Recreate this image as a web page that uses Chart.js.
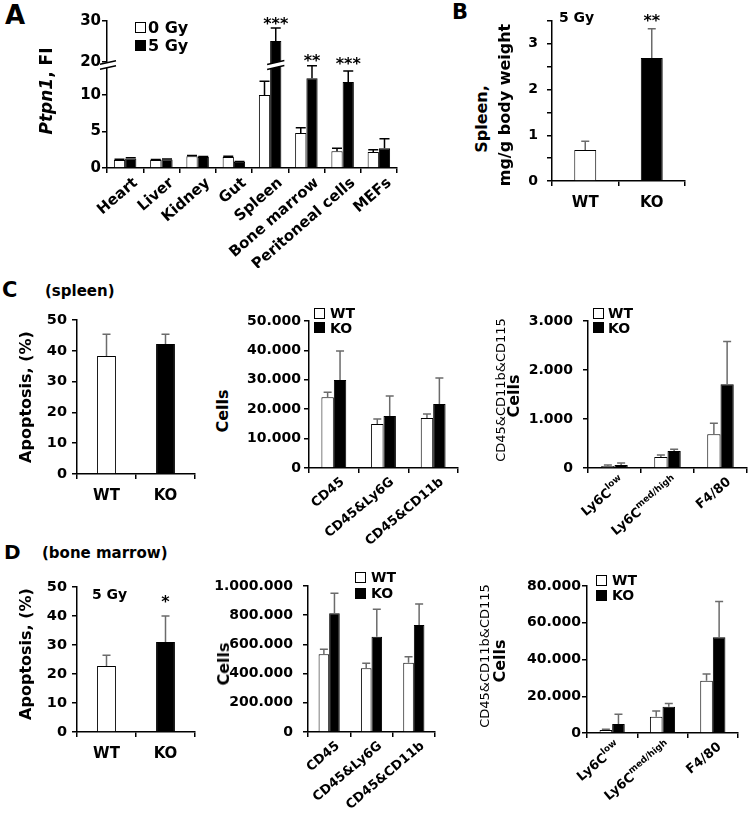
<!DOCTYPE html>
<html>
<head>
<meta charset="utf-8">
<script src="https://cdn.jsdelivr.net/npm/chart.js@4.4.0/dist/chart.umd.min.js"></script>
<style>
  body { margin: 0; background: #fff; width: 750px; height: 814px; position: relative; overflow: hidden;
         font-family: 'DejaVu Sans', Verdana, sans-serif; }
  canvas { position: absolute; }
  .t { position: absolute; font-weight: bold; white-space: nowrap; color: #000; line-height: 1; }
  .sq { position: absolute; width: 11px; height: 11px; border: 1.5px solid #000; box-sizing: border-box; background: #fff; }
</style>
</head>
<body>
<script>
// ---- data ----
const tissues = ['Heart', 'Liver', 'Kidney', 'Gut', 'Spleen', 'Bone marrow', 'Peritoneal cells', 'MEFs'];
const ptpn1Gy0 = [1.1, 1.1, 1.6, 1.5, 10.0, 4.8, 2.3, 2.2];
const ptpn1Gy0Err = [0.1, 0.08, 0.1, 0.12, 1.9, 0.7, 0.4, 0.3];
const ptpn1Gy5 = [1.3, 1.15, 1.5, 0.85, 25.1, 12.3, 11.8, 2.7];
const ptpn1Gy5Err = [0.1, 0.08, 0.08, 0.05, 3.2, 1.7, 1.5, 1.3];
const ptpn1TicksLow = [0, 5, 10];
const ptpn1TicksHigh = [20, 30];

const genotypes = ['WT', 'KO'];
const spleenWeight = [0.68, 2.69];
const spleenWeightErr = [0.19, 0.64];
const weightTicks = [0, 0.5, 1, 1.5, 2, 2.5, 3, 3.5];

const apoSpleen = [38.3, 42.2];
const apoSpleenErr = [7.1, 3.2];
const apoMarrow = [22.8, 31.0];
const apoMarrowErr = [3.7, 9.0];
const apoTicks = [0, 10, 20, 30, 40, 50];

const leukocytes = ['CD45', 'CD45&Ly6G', 'CD45&CD11b'];
const spleenCellsWT = [24100, 15000, 17000];
const spleenCellsWTErr = [1700, 1700, 1400];
const spleenCellsKO = [29900, 17700, 21800];
const spleenCellsKOErr = [9900, 6800, 8800];
const spleenCellTicks = [0, 10000, 20000, 30000, 40000, 50000];

const monoBase = ['Ly6C', 'Ly6C', 'F4/80'];
const monoSup = ['low', 'med/high', ''];
const spleenMonoWT = [40, 225, 690];
const spleenMonoWTErr = [20, 40, 225];
const spleenMonoKO = [60, 345, 1710];
const spleenMonoKOErr = [40, 40, 870];
const spleenMonoTicks = [0, 1000, 2000, 3000];

const marrowCellsWT = [533000, 437000, 474000];
const marrowCellsWTErr = [34000, 34000, 42000];
const marrowCellsKO = [814000, 652000, 733000];
const marrowCellsKOErr = [137000, 188000, 144000];
const marrowCellTicks = [0, 200000, 400000, 600000, 800000, 1000000];

const marrowMonoWT = [1600, 8900, 28500];
const marrowMonoWTErr = [400, 3100, 3600];
const marrowMonoKO = [4900, 14300, 52100];
const marrowMonoKOErr = [5300, 1800, 19400];
const marrowMonoTicks = [0, 20000, 40000, 60000, 80000];

const FONT = "'DejaVu Sans', Verdana, sans-serif";
const bold = px => 'bold ' + px + 'px ' + FONT;
Chart.defaults.font.family = FONT;
Chart.defaults.color = '#000';

const dots = v => String(v).replace(/\B(?=(\d{3})+(?!\d))/g, '.');
const plain = v => String(v);

// error bars (upper half only, T caps)
const errorBars = {
  id: 'errorBars',
  afterDatasetsDraw(chart, args, o) {
    const ctx = chart.ctx, a = chart.chartArea, y = chart.scales.y;
    ctx.save();
    ctx.beginPath();
    ctx.rect(a.left - 20, a.top, a.width + 40, a.height);
    ctx.clip();
    ctx.strokeStyle = o.color || '#000';
    ctx.lineWidth = o.width || 1.5;
    chart.data.datasets.forEach((ds, di) => {
      if (!ds.errors) return;
      chart.getDatasetMeta(di).data.forEach((bar, i) => {
        const top = y.getPixelForValue(ds.data[i] + ds.errors[i]);
        ctx.beginPath();
        ctx.moveTo(bar.x, bar.y);
        ctx.lineTo(bar.x, top);
        ctx.moveTo(bar.x - (o.cap || 4), top);
        ctx.lineTo(bar.x + (o.cap || 4), top);
        ctx.stroke();
      });
    });
    ctx.restore();
  }
};

// significance stars above error bars
const stars = {
  id: 'stars',
  afterDraw(chart, args, o) {
    if (!o.items) return;
    const ctx = chart.ctx, y = chart.scales.y;
    ctx.save();
    ctx.font = bold(16);
    ctx.fillStyle = '#000';
    ctx.textAlign = 'center';
    ctx.textBaseline = 'alphabetic';
    o.items.forEach(s => {
      const ds = chart.data.datasets[s.ds];
      const bar = chart.getDatasetMeta(s.ds).data[s.i];
      const top = y.getPixelForValue(ds.data[s.i] + ds.errors[s.i]);
      ctx.fillText(s.text, bar.x, top - s.gap);
    });
    ctx.restore();
  }
};

// tick and category labels
const axisText = {
  id: 'axisText',
  afterDraw(chart, args, o) {
    const ctx = chart.ctx, a = chart.chartArea;
    ctx.save();
    ctx.fillStyle = '#000';
    if (o.y) {
      const s = chart.scales.y, c = o.y;
      ctx.font = c.font;
      ctx.textAlign = 'right';
      ctx.textBaseline = 'middle';
      s.ticks.forEach(t => {
        const label = c.fmt(t.value);
        if (label !== '') ctx.fillText(label, a.left - c.gap, s.getPixelForValue(t.value));
      });
    }
    if (o.x) {
      const s = chart.scales.x, c = o.x;
      ctx.textAlign = 'left';
      ctx.textBaseline = 'alphabetic';
      c.base.forEach((lab, i) => {
        const sup = c.sup ? c.sup[i] : '';
        ctx.font = c.font;
        const w1 = ctx.measureText(lab).width;
        ctx.font = c.supFont || c.font;
        const w2 = sup ? ctx.measureText(sup).width : 0;
        const start = c.angle ? -(w1 + w2) : -(w1 + w2) / 2;
        ctx.save();
        ctx.translate(s.getPixelForValue(i) + c.dx, a.bottom + c.dy);
        ctx.rotate(-c.angle * Math.PI / 180);
        ctx.font = c.font;
        ctx.fillText(lab, start, 0);
        if (sup) {
          ctx.font = c.supFont;
          ctx.fillText(sup, start + w1, -c.supRise);
        }
        ctx.restore();
      });
    }
    ctx.restore();
  }
};

// broken axis marks (panel A)
const axisBreak = {
  id: 'axisBreak',
  afterDraw(chart, args, o) {
    if (o.ds === undefined) return;
    const ctx = chart.ctx, a = chart.chartArea;
    const bar = chart.getDatasetMeta(o.ds).data[o.i];
    const half = bar.width / 2 + 3;
    const spans = [[a.left - 7, a.left + 9], [bar.x - half, bar.x + half]];
    const yc = a.top + 1;
    ctx.save();
    spans.forEach(([x0, x1]) => {
      const xm = (x0 + x1) / 2;
      const yAt = (xx, off) => yc + off - o.slope * (xx - xm);
      ctx.fillStyle = '#fff';
      ctx.beginPath();
      ctx.moveTo(x0, yAt(x0, -o.gap / 2));
      ctx.lineTo(x1, yAt(x1, -o.gap / 2));
      ctx.lineTo(x1, yAt(x1, o.gap / 2));
      ctx.lineTo(x0, yAt(x0, o.gap / 2));
      ctx.closePath();
      ctx.fill();
      ctx.strokeStyle = '#000';
      ctx.lineWidth = 1.5;
      ctx.beginPath();
      ctx.moveTo(x0, yAt(x0, -o.gap / 2));
      ctx.lineTo(x1, yAt(x1, -o.gap / 2));
      ctx.moveTo(x0, yAt(x0, o.gap / 2));
      ctx.lineTo(x1, yAt(x1, o.gap / 2));
      ctx.stroke();
    });
    ctx.restore();
  }
};

// g: page geometry of the plot area (left/right x, top = y of max, bottom = y of min)
function barChart(g, cfg) {
  const canvas = document.createElement('canvas');
  const padB = g.padB || 0;
  canvas.width = g.yW + (g.right - g.left) + g.padR;
  canvas.height = g.padT + (g.bottom - g.top) + g.xH + padB;
  canvas.style.left = (g.left - g.yW) + 'px';
  canvas.style.top = (g.top - g.padT) + 'px';
  document.body.appendChild(canvas);

  return new Chart(canvas, {
    type: 'bar',
    data: { labels: cfg.labels, datasets: cfg.datasets },
    options: {
      responsive: false,
      animation: false,
      events: [],
      layout: { padding: { top: g.padT, right: g.padR, bottom: padB, left: 0 } },
      datasets: { bar: { categoryPercentage: cfg.catPct, barPercentage: cfg.barPct } },
      plugins: {
        legend: { display: false },
        tooltip: { enabled: false },
        errorBars: cfg.err || {},
        stars: { items: cfg.stars },
        axisText: { x: cfg.xText, y: cfg.yText },
        axisBreak: cfg.brk || {}
      },
      scales: {
        x: {
          display: g.xH > 0,
          grid: { display: true, drawOnChartArea: false, offset: true, tickLength: 5, color: '#000', lineWidth: 1.5 },
          border: { color: '#000', width: 1.5 },
          ticks: { display: false },
          afterFit: s => { s.height = g.xH; }
        },
        y: {
          min: cfg.min,
          max: cfg.max,
          grid: { drawOnChartArea: false, tickLength: 5, color: '#000', lineWidth: 1.5 },
          border: { color: '#000', width: 1.5 },
          afterBuildTicks: s => { s.ticks = cfg.ticks.map(v => ({ value: v })); },
          ticks: { display: false },
          afterFit: s => { s.width = g.yW; }
        }
      }
    },
    plugins: [errorBars, stars, axisText, axisBreak]
  });
}

const wt = (data, errors) => ({ data, errors, backgroundColor: '#fff', borderColor: '#000', borderWidth: 1 });
const ko = (data, errors) => ({ data, errors, backgroundColor: '#000', borderColor: '#000', borderWidth: 1 });
const pair = (data, errors) => ({ data, errors, backgroundColor: ['#fff', '#000'], borderColor: '#000', borderWidth: 1 });
const grayErr = { color: '#6b6b6b', width: 1.5, cap: 4 };
const blackErr = { color: '#000', width: 1.5, cap: 5 };

// ---- A: Ptpn1 expression, broken axis (upper part then lower part) ----
const yTextA = { font: bold(15), gap: 6, fmt: plain };
barChart({ left: 107, right: 397, top: 21, bottom: 66, yW: 60, padT: 16, padR: 12, xH: 0, padB: 16 }, {
  labels: tissues,
  datasets: [wt(ptpn1Gy0, ptpn1Gy0Err), ko(ptpn1Gy5, ptpn1Gy5Err)],
  catPct: 0.62, barPct: 1, min: 19, max: 30, ticks: ptpn1TicksHigh, err: blackErr,
  yText: yTextA,
  stars: [{ ds: 1, i: 4, text: '***', gap: -1 }]
});
barChart({ left: 107, right: 397, top: 64, bottom: 168, yW: 60, padT: 16, padR: 12, xH: 100 }, {
  labels: tissues,
  datasets: [wt(ptpn1Gy0, ptpn1Gy0Err), ko(ptpn1Gy5, ptpn1Gy5Err)],
  catPct: 0.62, barPct: 1, min: 0, max: 14.25, ticks: ptpn1TicksLow, err: blackErr,
  yText: yTextA,
  xText: { base: tissues, font: bold(15), angle: 41, dx: 13, dy: 16 },
  stars: [{ ds: 1, i: 5, text: '**', gap: 0 }, { ds: 1, i: 6, text: '***', gap: 2 }],
  brk: { ds: 1, i: 4, slope: 0.22, gap: 5 }
});

// ---- B: spleen weight ----
barChart({ left: 552, right: 685, top: 21, bottom: 181, yW: 40, padT: 16, padR: 10, xH: 40 }, {
  labels: genotypes,
  datasets: [pair(spleenWeight, spleenWeightErr)],
  catPct: 1, barPct: 0.33, min: 0, max: 3.5, ticks: weightTicks, err: grayErr,
  yText: { font: bold(14), gap: 14, fmt: v => Number.isInteger(v) ? String(v) : '' },
  xText: { base: genotypes, font: bold(15), angle: 0, dx: 0, dy: 26 },
  stars: [{ ds: 0, i: 1, text: '**', gap: 3 }]
});

// ---- C: spleen ----
const genoText = { base: genotypes, font: bold(15), angle: 0, dx: 0, dy: 26 };
barChart({ left: 77, right: 195, top: 320, bottom: 474, yW: 45, padT: 16, padR: 10, xH: 35 }, {
  labels: genotypes,
  datasets: [pair(apoSpleen, apoSpleenErr)],
  catPct: 1, barPct: 0.32, min: 0, max: 50, ticks: apoTicks, err: grayErr,
  yText: { font: bold(14.5), gap: 10, fmt: plain },
  xText: genoText
});
barChart({ left: 309, right: 458, top: 321, bottom: 468, yW: 70, padT: 16, padR: 10, xH: 85 }, {
  labels: leukocytes,
  datasets: [wt(spleenCellsWT, spleenCellsWTErr), ko(spleenCellsKO, spleenCellsKOErr)],
  catPct: 0.5, barPct: 1, min: 0, max: 50000, ticks: spleenCellTicks, err: grayErr,
  yText: { font: bold(14), gap: 8, fmt: dots },
  xText: { base: leukocytes, font: bold(13), angle: 40, dx: 11, dy: 15 }
});
barChart({ left: 588, right: 747, top: 321, bottom: 468, yW: 60, padT: 16, padR: 3, xH: 85 }, {
  labels: monoBase.map((b, i) => b + monoSup[i]),
  datasets: [wt(spleenMonoWT, spleenMonoWTErr), ko(spleenMonoKO, spleenMonoKOErr)],
  catPct: 0.5, barPct: 1, min: 0, max: 3000, ticks: spleenMonoTicks, err: grayErr,
  yText: { font: bold(14), gap: 15, fmt: dots },
  xText: { base: monoBase, sup: monoSup, font: bold(13), supFont: bold(9), supRise: 6, angle: 40, dx: 11, dy: 15 }
});

// ---- D: bone marrow ----
barChart({ left: 77, right: 195, top: 587, bottom: 732, yW: 45, padT: 16, padR: 10, xH: 35 }, {
  labels: genotypes,
  datasets: [pair(apoMarrow, apoMarrowErr)],
  catPct: 1, barPct: 0.32, min: 0, max: 50, ticks: apoTicks, err: grayErr,
  yText: { font: bold(14.5), gap: 10, fmt: plain },
  xText: genoText,
  stars: [{ ds: 0, i: 1, text: '*', gap: 9 }]
});
barChart({ left: 308, right: 435, top: 586, bottom: 732, yW: 100, padT: 16, padR: 10, xH: 80 }, {
  labels: leukocytes,
  datasets: [wt(marrowCellsWT, marrowCellsWTErr), ko(marrowCellsKO, marrowCellsKOErr)],
  catPct: 0.5, barPct: 1, min: 0, max: 1000000, ticks: marrowCellTicks, err: grayErr,
  yText: { font: bold(14), gap: 15, fmt: dots },
  xText: { base: leukocytes, font: bold(13), angle: 40, dx: 11, dy: 15 }
});
barChart({ left: 587, right: 738, top: 586, bottom: 733, yW: 70, padT: 16, padR: 10, xH: 80 }, {
  labels: monoBase.map((b, i) => b + monoSup[i]),
  datasets: [wt(marrowMonoWT, marrowMonoWTErr), ko(marrowMonoKO, marrowMonoKOErr)],
  catPct: 0.5, barPct: 1, min: 0, max: 80000, ticks: marrowMonoTicks, err: grayErr,
  yText: { font: bold(14), gap: 6, fmt: dots },
  xText: { base: monoBase, sup: monoSup, font: bold(13), supFont: bold(9), supRise: 6, angle: 40, dx: 9, dy: 15 }
});

// ---- texts ----
function text(html, x, y, size, o = {}) {
  const d = document.createElement('div');
  d.className = 't';
  d.innerHTML = html;
  d.style.left = x + 'px';
  d.style.top = y + 'px';
  d.style.fontSize = size + 'px';
  d.style.transform = o.rot ? 'translate(-50%,-50%) rotate(-90deg)' : 'translateY(-50%)';
  if (o.normal) { d.style.fontWeight = 'normal'; d.style.filter = 'grayscale(1)'; }
  document.body.appendChild(d);
}
function square(x, y, filled) {
  const d = document.createElement('div');
  d.className = 'sq';
  d.style.left = x + 'px';
  d.style.top = y + 'px';
  if (filled) d.style.background = '#000';
  document.body.appendChild(d);
}

text('A', 5, 15, 26);
text('B', 452, 12, 21);
text('C', 2, 290, 21);
text('(spleen)', 45, 291, 15);
text('D', 4, 552, 20);
text('(bone marrow)', 42, 553, 15);

text('<i>Ptpn1</i>, FI', 46, 91, 17, { rot: true });
square(135, 22, false); text('0 Gy', 148, 28, 16);
square(135, 40, true);  text('5 Gy', 148, 46, 16);

text('Spleen,', 482, 119, 16, { rot: true });
text('mg/g body weight', 505, 105, 16, { rot: true });
text('5 Gy', 559, 17, 14);

text('Apoptosis, (%)', 26, 397, 16, { rot: true });
text('Cells', 223, 411, 16, { rot: true });
square(314, 308, false); text('WT', 330, 313, 14);
square(314, 322, true);  text('KO', 330, 328, 14);
text('CD45&amp;CD11b&amp;CD115', 500, 390, 13, { rot: true, normal: true });
text('Cells', 514, 396, 16, { rot: true });
square(593, 308, false); text('WT', 608, 313, 14);
square(593, 322, true);  text('KO', 608, 328, 14);

text('Apoptosis, (%)', 26, 654, 16, { rot: true });
text('5 Gy', 92, 594, 14);
text('Cells', 224, 664, 16, { rot: true });
square(355, 572, false); text('WT', 371, 577, 14);
square(355, 588, true);  text('KO', 371, 593, 14);
text('CD45&amp;CD11b&amp;CD115', 484, 656, 13, { rot: true, normal: true });
text('Cells', 500, 661, 16, { rot: true });
square(596, 575, false); text('WT', 612, 580, 14);
square(596, 590, true);  text('KO', 612, 595, 14);
</script>
</body>
</html>
